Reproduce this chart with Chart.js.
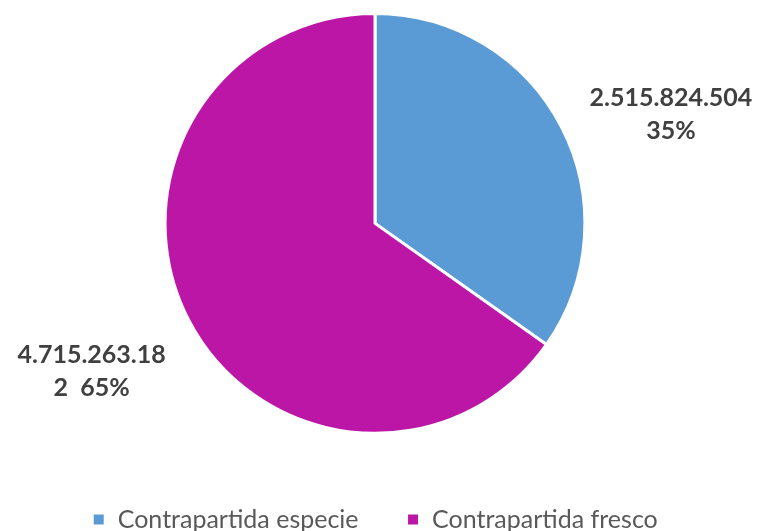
<!DOCTYPE html>
<html>
<head>
<meta charset="utf-8">
<script src="https://cdn.jsdelivr.net/npm/chart.js@4"></script>
<style>
  html, body { margin: 0; padding: 0; background: #fff; }
  #wrap { width: 759px; height: 531px; }
</style>
</head>
<body>
<div id="wrap"><canvas id="pieChart"></canvas></div>
<script>
// Chart data
const categories = ['Contrapartida especie', 'Contrapartida fresco'];
const values = [2515824504, 4715263182];
const valueLabels = [['2.515.824.504', '35%'], ['4.715.263.18', '2  65%']];
const sliceColors = ['#5B9BD5', '#BC16A6'];

Chart.defaults.font.family = "Lato, 'Open Sans', sans-serif";
Chart.defaults.color = '#595959';

// Label anchor offsets, in units of the pie radius
const labelOffsets = [[1.41, -0.60], [-1.35, 0.625]];

// Draws the value/percent labels outside each slice
const outsideLabels = {
    id: 'outsideLabels',
    afterDatasetsDraw(chart) {
        const ctx = chart.ctx;
        const meta = chart.getDatasetMeta(0);
        ctx.save();
        ctx.font = "bold 25px Lato, 'Open Sans', sans-serif";
        ctx.fillStyle = '#404040';
        ctx.textAlign = 'center';
        ctx.textBaseline = 'middle';
        meta.data.forEach((arc, i) => {
            const r = arc.outerRadius;
            const x = arc.x + labelOffsets[i][0] * r;
            const y = arc.y + labelOffsets[i][1] * r;
            valueLabels[i].forEach((line, j) => {
                ctx.fillText(line, x, y + j * 33);
            });
        });
        ctx.restore();
    }
};

const ctx = document.getElementById('pieChart').getContext('2d');
new Chart(ctx, {
    type: 'pie',
    data: {
        labels: categories,
        datasets: [{
            data: values,
            backgroundColor: sliceColors,
            borderColor: '#ffffff',
            borderWidth: 3
        }]
    },
    options: {
        responsive: true,
        maintainAspectRatio: false,
        animation: false,
        layout: { padding: { top: 12, right: 9, bottom: -11, left: 0 } },
        plugins: {
            legend: {
                position: 'bottom',
                title: { display: true, text: '', font: { size: 1 }, padding: { top: 23, bottom: 0 } },
                labels: {
                    boxWidth: 13,
                    boxHeight: 13,
                    padding: 48,
                    font: { size: 25 },
                    color: '#595959'
                }
            },
            tooltip: { enabled: false }
        }
    },
    plugins: [outsideLabels]
});
</script>
</body>
</html>
